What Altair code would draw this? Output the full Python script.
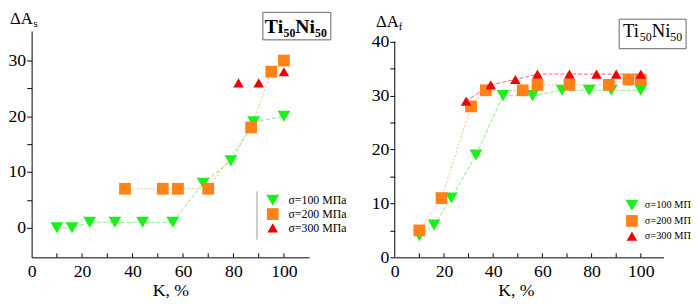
import altair as alt
import pandas as pd

SERIF = "Liberation Serif"

series_labels = ["σ=100 МПа", "σ=200 МПа", "σ=300 МПа"]
marker_colors = ["#1cf01c", "#ff8218", "#ee0000"]
line_colors = ["#80ee80", "#ffbc88", "#ff6060"]
shapes = ["triangle-down", "square", "triangle-up"]
sizes = [170, 115, 170]

# Left panel: ΔAs
ks_100 = [10, 16, 23, 33, 44, 56, 68, 79, 88, 100]
as_100 = [0, 0, 1, 1, 1, 1, 8, 12, 19, 20]
ks_200 = [37, 52, 58, 70, 87, 95, 100]
as_200 = [7, 7, 7, 7, 18, 28, 30]
ks_300 = [82, 90, 100]
as_300 = [26, 26, 28]

# Right panel: ΔAf
kf_100 = [10, 16, 23, 33, 44, 56, 68, 79, 88, 100]
af_100 = [4, 6, 11, 19, 30, 30, 31, 31, 31, 31]
kf_200 = [10, 19, 31, 37, 52, 58, 71, 87, 95, 100]
af_200 = [5, 11, 28, 31, 31, 32, 32, 32, 33, 33]
kf_300 = [29, 39, 49, 58, 71, 82, 90, 100]
af_300 = [29, 32, 33, 34, 34, 34, 34, 34]

x_labels = [0, 20, 40, 60, 80, 100]
x_minor = [10, 20, 30, 40, 50, 60, 70, 80, 90, 100]
ys_ticks = [0, 5, 10, 15, 20, 25, 30]
yf_ticks = [0, 5, 10, 15, 20, 25, 30, 35, 40]


def frame(ks, vs):
    rows = []
    for lab, kk, vv in zip(series_labels, ks, vs):
        for k, v in zip(kk, vv):
            rows.append({"K": k, "v": v, "series": lab})
    return pd.DataFrame(rows)


def text_layer(s, x, y, size, weight="normal"):
    return alt.Chart(pd.DataFrame({"t": [s]})).mark_text(
        align="left", baseline="alphabetic", font=SERIF, fontSize=size,
        fontWeight=weight, color="black"
    ).encode(x=alt.value(x), y=alt.value(y), text="t:N")


def panel(df, line_series, xdom, ydom, yticks, width, height, legend_kw,
          box, title_pos, title_w, big, small, ylab, ysub, ylab_pos,
          show_domain=True, axis_top=None, x_title_x=None, legend_rule=None):
    xs = alt.Scale(domain=xdom, nice=False, zero=False)
    ysc = alt.Scale(domain=ydom, nice=False, zero=False)
    extra = {"titleX": x_title_x, "titleAlign": "center"} if x_title_x is not None else {}
    xaxis = alt.Axis(values=x_labels, title="K, %", ticks=False, **extra)
    yaxis = alt.Axis(values=yticks, title=None, tickSize=5,
                     labelExpr="datum.value % 10 == 0 ? datum.label : ''",
                     labelPadding=1, domain=show_domain)
    base = alt.Chart(df)
    layers = []
    for i, lab in enumerate(series_labels):
        if lab not in line_series:
            continue
        dash = [4, 2] if i != 1 else [2, 2]
        layers.append(
            base.transform_filter(alt.datum.series == lab)
            .mark_line(color=line_colors[i], strokeWidth=1, strokeDash=dash)
            .encode(x=alt.X("K:Q", scale=xs, axis=xaxis),
                    y=alt.Y("v:Q", scale=ysc, axis=yaxis))
        )
    leg = alt.Legend(title=None, orient="none", **legend_kw)
    layers.append(
        base.mark_point(filled=True, opacity=1, strokeWidth=0).encode(
            x=alt.X("K:Q", scale=xs, axis=xaxis),
            y=alt.Y("v:Q", scale=ysc, axis=yaxis),
            color=alt.Color("series:N", scale=alt.Scale(domain=series_labels, range=marker_colors), legend=leg),
            shape=alt.Shape("series:N", scale=alt.Scale(domain=series_labels, range=shapes), legend=leg),
            size=alt.Size("series:N", scale=alt.Scale(domain=series_labels, range=sizes), legend=None),
        )
    )
    # inward x ticks
    layers.append(
        alt.Chart(pd.DataFrame({"K": x_minor})).mark_rule(color="black", strokeWidth=1)
        .encode(x=alt.X("K:Q", scale=xs, axis=xaxis), y=alt.value(height), y2=alt.value(height - 4))
    )
    if axis_top is not None:
        layers.append(
            alt.Chart(pd.DataFrame({"a": [0]})).mark_rule(color="black", strokeWidth=1)
            .encode(x=alt.value(0), y=alt.datum(ydom[0], scale=ysc, axis=yaxis), y2=alt.datum(axis_top))
        )
    if legend_rule is not None:
        layers.append(
            alt.Chart(pd.DataFrame({"a": [0]})).mark_rule(color="#999999", strokeWidth=1)
            .encode(x=alt.value(legend_rule[0]), y=alt.value(legend_rule[1]), y2=alt.value(legend_rule[2]))
        )
    # title box
    layers.append(
        alt.Chart(pd.DataFrame({"a": [0]})).mark_rect(fill="white", stroke="#666666", strokeWidth=1)
        .encode(x=alt.value(box[0]), x2=alt.value(box[1]), y=alt.value(box[2]), y2=alt.value(box[3]))
    )
    tx, ty = title_pos
    bs, ss = big, small
    w = title_w
    layers.append(text_layer("Ti", tx, ty, bs[0], bs[1]))
    layers.append(text_layer("50", tx + w[0], ty + 4, ss[0], ss[1]))
    layers.append(text_layer("Ni", tx + w[0] + w[1], ty, bs[0], bs[1]))
    layers.append(text_layer("50", tx + w[0] + w[1] + w[2], ty + 4, ss[0], ss[1]))
    # y label
    layers.append(text_layer(ylab, ylab_pos[0], ylab_pos[1], 17))
    layers.append(text_layer(ysub, ylab_pos[2], ylab_pos[3], 11))
    return alt.layer(*layers).properties(width=width, height=height).resolve_scale(
        color="shared", shape="shared", size="shared")


left = panel(
    frame([ks_100, ks_200, ks_300], [as_100, as_200, as_300]),
    line_series=series_labels[:2], xdom=[0, 110], ydom=[-5.3, 35.3], yticks=ys_ticks,
    width=282, height=230,
    legend_kw=dict(legendX=238, legendY=165, labelOffset=9),
    box=[235, 304, -19, 9], title_pos=[237, 2], title_w=[19, 12, 20],
    big=(20, "bold"), small=(12, "bold"),
    ylab="ΔA", ysub="s", ylab_pos=[-22, -7, 2, -4],
    legend_rule=[229, 163, 212],
)
right = panel(
    frame([kf_100, kf_200, kf_300], [af_100, af_200, af_300]),
    line_series=series_labels, xdom=[0, 109.2], ydom=[0, 42], yticks=yf_ticks,
    width=273, height=230,
    legend_kw=dict(legendX=234, legendY=170, labelOffset=6, labelFontSize=10.5,
                   labelExpr="slice(datum.label, 0, 8)", rowPadding=4),
    box=[228, 296, -12, 18], title_pos=[232, 6], title_w=[17, 12, 19],
    big=(19, "normal"), small=(12, "normal"),
    ylab="ΔA", ysub="f", ylab_pos=[-19, -4, 4, -1],
    show_domain=False, axis_top=40, x_title_x=123,
)

chart = (
    alt.hconcat(left, right, spacing=87, bounds="flush", padding=0)
    .resolve_scale(x="independent", y="independent", color="independent",
                   shape="independent", size="independent")
    .resolve_legend(color="independent", shape="independent")
    .configure_view(stroke=None)
    .configure_axis(
        grid=False, labelFont=SERIF, labelFontSize=18, labelColor="black",
        titleFont=SERIF, titleFontSize=18, titleFontWeight="normal", titleColor="black",
        domainColor="black", tickColor="black", labelFlush=False,
    )
    .configure_axisX(labelPadding=5, titlePadding=2)
    .configure_legend(
        labelFont=SERIF, labelFontSize=12, labelColor="black", symbolSize=140,
        symbolStrokeWidth=0, symbolOpacity=1, rowPadding=2, padding=0,
    )
)

chart.save("out.html", embed_options={"renderer": "svg", "actions": False})
